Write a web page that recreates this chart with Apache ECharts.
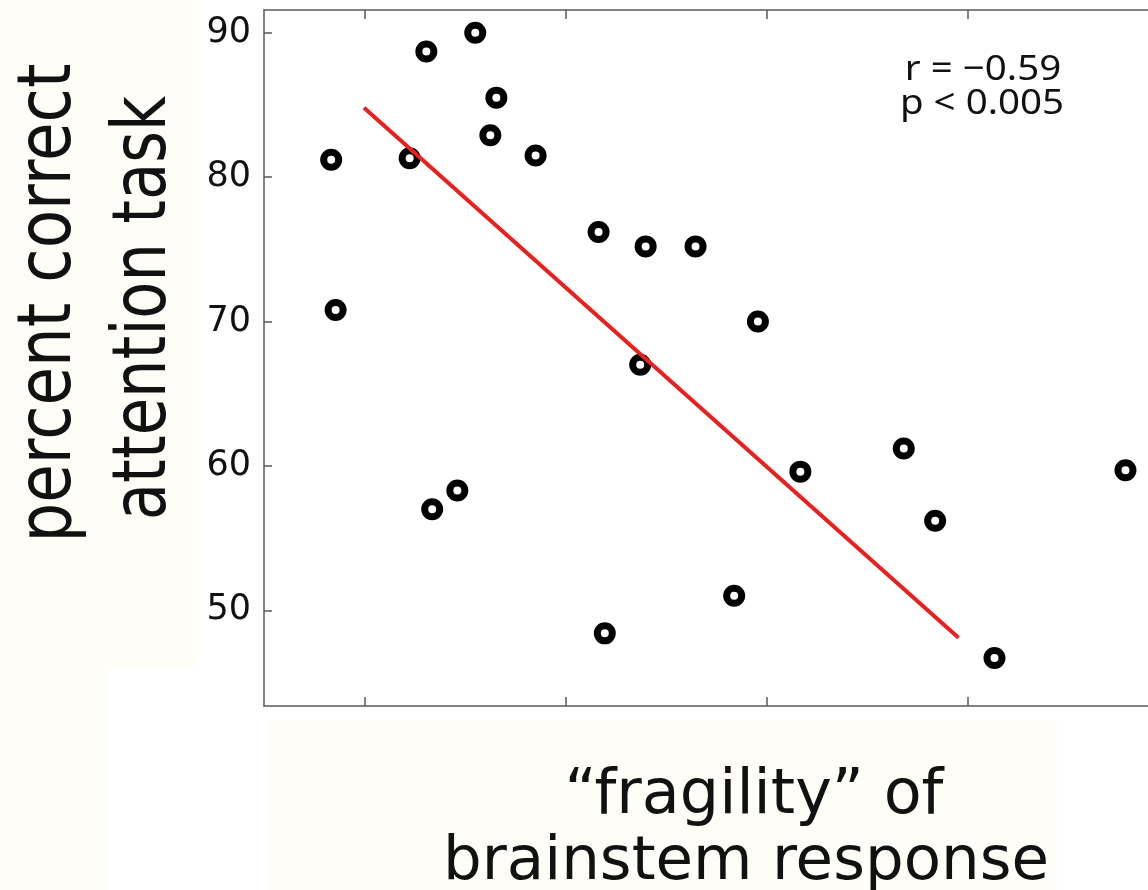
<!DOCTYPE html>
<html>
<head>
<meta charset="utf-8">
<script src="https://cdn.jsdelivr.net/npm/echarts@6/dist/echarts.min.js"></script>
<style>
  html, body { margin: 0; padding: 0; background: #ffffff; }
  #chart { width: 1148px; height: 890px; }
</style>
</head>
<body>
<div id="chart"></div>
<script>
// Fragility of the brainstem response (x, arbitrary units) against
// percent correct on the attention task (y), one ring per subject.
const fragility = [
  0.834, 0.856, 1.224, 1.307, 1.336, 1.461, 1.550, 1.625, 1.655, 1.850, 2.163,
  2.194, 2.370, 2.397, 2.645, 2.837, 2.955, 3.166, 3.680, 3.836, 4.131, 4.782
];
const percentCorrect = [
  81.2, 70.8, 81.3, 88.7, 57.0, 58.3, 90.0, 82.9, 85.5, 81.5, 76.2,
  48.4, 67.0, 75.2, 75.2, 51.0, 70.0, 59.6, 61.2, 56.2, 46.7, 59.7
];

// Least-squares fit drawn across the central range of the data
const fitX = [0.997, 3.952];
const fitY = [84.8, 48.1];

// Axis ticks
const xTickValues = [1, 2, 3, 4];
const yTickValues = [50, 60, 70, 80, 90];

const statsLines = ['r = \u22120.59', 'p < 0.005'];
const yTitleLines = ['percent correct', 'attention task'];
const xTitleLines = ['\u201cfragility\u201d of', 'brainstem response'];

const points = fragility.map((x, i) => [x, percentCorrect[i]]);
const fitPoints = fitX.map((x, i) => [x, fitY[i]]);

const frameColor = '#5a5a5a';
const paper = '#fefdf8';

const chart = echarts.init(document.getElementById('chart'), null, { renderer: 'canvas' });

const xAxisBase = {
  type: 'value',
  min: 0.5,
  max: 4.894,
  axisLine: { show: true, lineStyle: { color: frameColor, width: 1.5 } },
  axisTick: { show: true, inside: true, length: 9, customValues: xTickValues,
              lineStyle: { color: frameColor, width: 1.5 } },
  axisLabel: { show: false },
  splitLine: { show: false }
};

chart.setOption({
  backgroundColor: '#ffffff',
  animation: false,
  grid: { left: 264, top: 10, right: 0, height: 696, show: false },
  xAxis: [
    Object.assign({}, xAxisBase, { position: 'bottom' }),
    Object.assign({}, xAxisBase, { position: 'top' })
  ],
  yAxis: {
    type: 'value',
    min: 43.37,
    max: 91.57,
    axisLine: { show: true, lineStyle: { color: frameColor, width: 1.5 } },
    axisTick: { show: true, inside: true, length: 8, customValues: yTickValues,
                lineStyle: { color: frameColor, width: 1.5 } },
    axisLabel: { show: true, customValues: yTickValues, margin: 13,
                 fontFamily: 'DejaVu Sans', fontSize: 35, color: '#111111' },
    splitLine: { show: false }
  },
  series: [
    {
      type: 'scatter',
      xAxisIndex: 0,
      data: points,
      symbol: 'circle',
      symbolSize: 15,
      itemStyle: { color: '#ffffff', borderColor: '#000000', borderWidth: 7, opacity: 1 },
      z: 3
    },
    {
      type: 'line',
      xAxisIndex: 0,
      data: fitPoints,
      symbol: 'none',
      lineStyle: { color: '#e8201e', width: 4 },
      z: 4
    }
  ],
  graphic: [
    // paper-coloured panels behind the axis titles
    { type: 'rect', shape: { x: 0, y: 0, width: 197, height: 667 }, style: { fill: paper }, z: -10, silent: true },
    { type: 'rect', shape: { x: 0, y: 667, width: 107, height: 223 }, style: { fill: paper }, z: -10, silent: true },
    { type: 'rect', shape: { x: 267, y: 720, width: 790, height: 170 }, style: { fill: paper }, z: -10, silent: true },
    // y-axis title, two rotated lines
    { type: 'text', x: 51, y: 303, rotation: Math.PI / 2, scaleX: 0.835, scaleY: 1,
      style: { text: yTitleLines[0], x: 0, y: 0, align: 'center', verticalAlign: 'middle',
               font: '75px "DejaVu Sans"', fill: '#111111' }, z: 10 },
    { type: 'text', x: 146, y: 308, rotation: Math.PI / 2, scaleX: 0.81, scaleY: 1,
      style: { text: yTitleLines[1], x: 0, y: 0, align: 'center', verticalAlign: 'middle',
               font: '75px "DejaVu Sans"', fill: '#111111' }, z: 10 },
    // x-axis title, two centred lines
    { type: 'text', x: 754, y: 797,
      style: { text: xTitleLines[0], x: 0, y: 0, align: 'center', verticalAlign: 'middle',
               font: '62px "DejaVu Sans"', fill: '#111111' }, z: 10 },
    { type: 'text', x: 746, y: 863,
      style: { text: xTitleLines[1], x: 0, y: 0, align: 'center', verticalAlign: 'middle',
               font: '61px "DejaVu Sans"', fill: '#111111' }, z: 10 },
    // correlation statistics
    { type: 'text', x: 983, y: 70, scaleX: 1.1,
      style: { text: statsLines[0], x: 0, y: 0, align: 'center', verticalAlign: 'middle',
               font: '35px "Noto Sans"', fill: '#111111' }, z: 10 },
    { type: 'text', x: 982, y: 104, scaleX: 1.1,
      style: { text: statsLines[1], x: 0, y: 0, align: 'center', verticalAlign: 'middle',
               font: '35px "Noto Sans"', fill: '#111111' }, z: 10 }
  ]
});
</script>
</body>
</html>
